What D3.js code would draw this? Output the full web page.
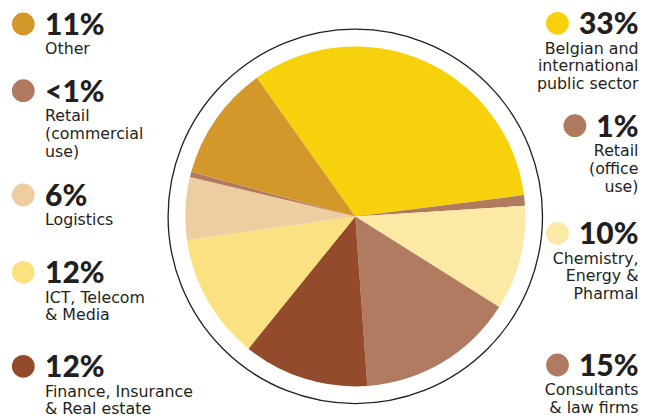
<!DOCTYPE html>
<html>
<head>
<meta charset="utf-8">
<script src="https://cdn.jsdelivr.net/npm/d3@7"></script>
<style>
  html, body { margin: 0; padding: 0; background: #fff; }
  svg { display: block; }
  .pct { font-family: "Lato", "Inter", sans-serif; font-weight: 900; fill: #231f20; }
  .lbl { font-family: "DejaVu Sans", "Inter", sans-serif; font-weight: 400; fill: #231f20; }
</style>
</head>
<body>
<svg id="chart" width="651" height="419"></svg>
<script>
// Share of office take-up by sector, clockwise from the public sector slice
const sectors = [
  "Belgian and international public sector",
  "Retail (office use)",
  "Chemistry, Energy & Pharmal",
  "Consultants & law firms",
  "Finance, Insurance & Real estate",
  "ICT, Telecom & Media",
  "Logistics",
  "Retail (commercial use)",
  "Other"
];
const shares = [33, 1, 10, 15, 12, 12, 6, 0.5, 11];
const shareLabels = ["33%", "1%", "10%", "15%", "12%", "12%", "6%", "<1%", "11%"];
const labelLines = [
  ["Belgian and", "international", "public sector"],
  ["Retail", "(office", "use)"],
  ["Chemistry,", "Energy &", "Pharmal"],
  ["Consultants", "& law firms"],
  ["Finance, Insurance", "& Real estate"],
  ["ICT, Telecom", "& Media"],
  ["Logistics"],
  ["Retail", "(commercial", "use)"],
  ["Other"]
];
const colors = ["#f7d10b", "#b07a5f", "#fce9a6", "#b07b60", "#944b2c", "#fbe182", "#eecea1", "#b07a5f", "#d4982a"];

const svg = d3.select("#chart");
const cx = 355.3, cy = 216.4, r = 170, ringR = 187.2;

const pie = d3.pie().sort(null).value(d => d)
  .startAngle(-35.4 * Math.PI / 180)
  .endAngle((360 - 35.4) * Math.PI / 180);
const arc = d3.arc().innerRadius(0).outerRadius(r);

const g = svg.append("g").attr("transform", `translate(${cx},${cy})`);
g.append("circle").attr("r", ringR)
  .attr("fill", "none").attr("stroke", "#231f20").attr("stroke-width", 1.3);
g.selectAll("path.slice").data(pie(shares)).join("path")
  .attr("class", "slice")
  .attr("d", arc)
  .attr("fill", (d, i) => colors[i]);

// Legend entries: [index, side, percentage baseline y, anchor x]
const legendPos = [
  [0, "right", 34.3, 638.5],
  [1, "right", 136.7, 638.5],
  [2, "right", 244.3, 638.5],
  [3, "right", 376, 638.5],
  [8, "left", 35, 45],
  [7, "left", 101.7, 45],
  [6, "left", 206, 45],
  [5, "left", 283.3, 45],
  [4, "left", 377.3, 45]
];
const dotR = 11.4, gap = 10, lineH = 17.8, pctSize = 30, lblSize = 15.8;

legendPos.forEach(([i, side, y, x]) => {
  const anchor = side === "right" ? "end" : "start";
  const pct = svg.append("text").attr("class", "pct")
    .attr("x", x).attr("y", y)
    .attr("text-anchor", anchor)
    .style("font-size", pctSize + "px")
    .text(shareLabels[i]);
  const w = pct.node().getComputedTextLength();
  const dotX = side === "right" ? x - w - gap - dotR : 23.3;
  svg.append("circle")
    .attr("cx", dotX).attr("cy", y - 11)
    .attr("r", dotR).attr("fill", colors[i]);
  labelLines[i].forEach((line, k) => {
    svg.append("text").attr("class", "lbl")
      .attr("x", x).attr("y", y + 19.2 + k * lineH)
      .attr("text-anchor", anchor)
      .style("font-size", lblSize + "px")
      .text(line);
  });
});
</script>
</body>
</html>
